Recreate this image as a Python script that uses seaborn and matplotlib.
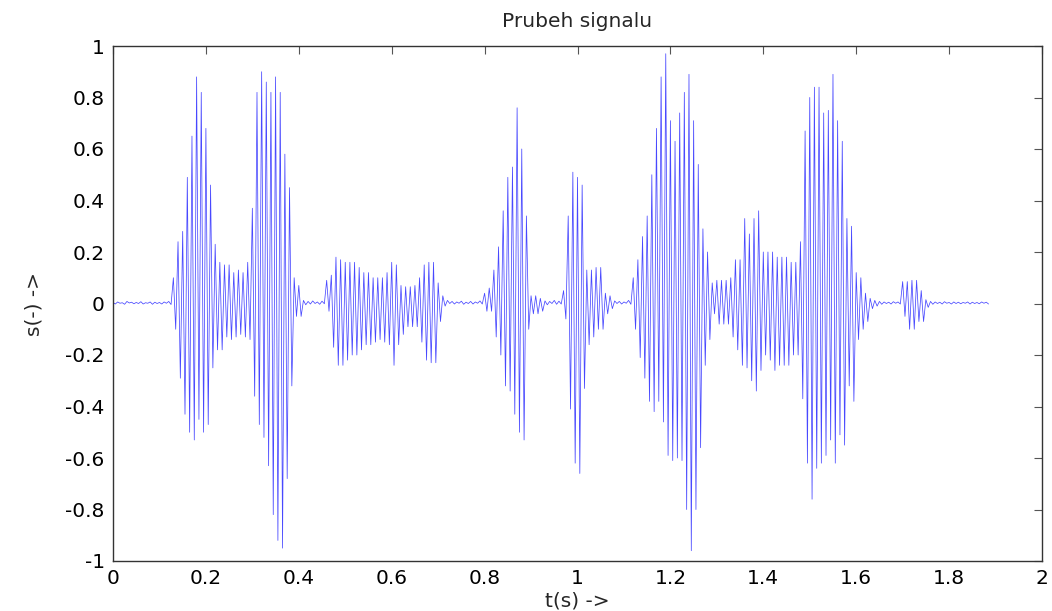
import matplotlib
matplotlib.use("Agg")
import matplotlib.pyplot as plt
import numpy as np
import pandas as pd
import seaborn as sns

# Signal: one upper swing per 10 ms bin (at t = i*0.01)
# and one lower swing half a bin later (at t = i*0.01 + 0.005)
step = 0.01
tops = [
    0.004, 0.006, 0.003, 0.008, 0.005, 0.004, 0.007, 0.003, 0.006, 0.005,
    0.004, 0.006, 0.008, 0.10, 0.24, 0.28, 0.49, 0.65, 0.88, 0.82,
    0.68, 0.46, 0.23, 0.16, 0.15, 0.15, 0.12, 0.13, 0.12, 0.16,
    0.37, 0.82, 0.90, 0.86, 0.82, 0.88, 0.82, 0.58, 0.45, 0.10,
    0.07, 0.012, 0.008, 0.010, 0.006, 0.009, 0.09, 0.11, 0.18, 0.17,
    0.16, 0.16, 0.16, 0.14, 0.12, 0.12, 0.10, 0.10, 0.10, 0.12,
    0.16, 0.15, 0.07, 0.065, 0.065, 0.07, 0.10, 0.15, 0.16, 0.16,
    0.08, 0.03, 0.012, 0.008, 0.006, 0.009, 0.005, 0.008, 0.006, 0.010,
    0.04, 0.06, 0.13, 0.22, 0.36, 0.49, 0.53, 0.76, 0.60, 0.34,
    0.03, 0.03, 0.02, 0.010, 0.008, 0.012, 0.009, 0.05, 0.34, 0.51,
    0.49, 0.46, 0.13, 0.13, 0.14, 0.14, 0.04, 0.03, 0.010, 0.008,
    0.006, 0.012, 0.10, 0.17, 0.26, 0.34, 0.50, 0.68, 0.88, 0.97,
    0.71, 0.63, 0.74, 0.82, 0.89, 0.71, 0.54, 0.29, 0.20, 0.08,
    0.09, 0.09, 0.09, 0.10, 0.17, 0.17, 0.33, 0.27, 0.33, 0.36,
    0.20, 0.20, 0.20, 0.18, 0.18, 0.18, 0.16, 0.16, 0.24, 0.67,
    0.80, 0.84, 0.84, 0.74, 0.75, 0.89, 0.71, 0.63, 0.33, 0.30,
    0.12, 0.10, 0.04, 0.02, 0.012, 0.008, 0.006, 0.005, 0.007, 0.006,
    0.085, 0.085, 0.09, 0.09, 0.05, 0.015, 0.008, 0.006, 0.005, 0.007,
    0.004, 0.006, 0.005, 0.004, 0.006, 0.005, 0.004, 0.006, 0.005,
]
bottoms = [
    -0.002, 0.001, -0.003, 0.002, -0.001, 0.000, -0.002, 0.001, -0.003, 0.000,
    -0.002, 0.001, -0.004, -0.10, -0.29, -0.43, -0.50, -0.53, -0.45, -0.50,
    -0.47, -0.25, -0.18, -0.18, -0.13, -0.14, -0.13, -0.12, -0.13, -0.14,
    -0.36, -0.47, -0.52, -0.63, -0.82, -0.92, -0.95, -0.68, -0.32, -0.05,
    -0.05, -0.005, -0.002, 0.000, -0.003, -0.001, -0.03, -0.17, -0.24, -0.24,
    -0.22, -0.20, -0.20, -0.18, -0.16, -0.16, -0.15, -0.14, -0.15, -0.16,
    -0.24, -0.16, -0.12, -0.09, -0.09, -0.09, -0.15, -0.22, -0.23, -0.23,
    -0.07, -0.01, 0.000, -0.002, 0.001, -0.003, 0.000, -0.002, 0.001, -0.002,
    -0.03, -0.03, -0.13, -0.20, -0.32, -0.34, -0.43, -0.50, -0.53, -0.10,
    -0.04, -0.04, -0.03, -0.005, 0.000, -0.003, -0.002, -0.06, -0.41, -0.62,
    -0.66, -0.33, -0.16, -0.13, -0.10, -0.10, -0.04, -0.02, 0.000, -0.002,
    0.001, -0.003, -0.10, -0.21, -0.29, -0.38, -0.42, -0.38, -0.46, -0.59,
    -0.61, -0.60, -0.61, -0.80, -0.96, -0.80, -0.56, -0.24, -0.14, -0.04,
    -0.08, -0.08, -0.08, -0.13, -0.18, -0.24, -0.25, -0.30, -0.34, -0.26,
    -0.20, -0.22, -0.26, -0.24, -0.24, -0.24, -0.20, -0.20, -0.37, -0.62,
    -0.76, -0.64, -0.62, -0.59, -0.53, -0.62, -0.51, -0.55, -0.32, -0.38,
    -0.14, -0.10, -0.07, -0.02, -0.01, -0.003, 0.000, -0.002, 0.001, -0.002,
    -0.05, -0.10, -0.10, -0.07, -0.07, -0.015, -0.003, 0.000, -0.002, 0.001,
    -0.002, 0.000, -0.001, 0.001, -0.002, 0.000, -0.001, 0.001, -0.002,
]
x_ticks = [0, 0.2, 0.4, 0.6, 0.8, 1, 1.2, 1.4, 1.6, 1.8, 2]
y_ticks = [-1, -0.8, -0.6, -0.4, -0.2, 0, 0.2, 0.4, 0.6, 0.8, 1]

# interleave upper and lower swings into one time series
t_top = np.arange(len(tops)) * step
t_bot = t_top + step / 2
signal = pd.DataFrame({
    "t": np.column_stack([t_top, t_bot]).ravel(),
    "s": np.column_stack([tops, bottoms]).ravel(),
})

sns.set_theme(style="white")
plt.rcParams["font.family"] = ["DejaVu Sans"]

fig = plt.figure(figsize=(10.52, 6.11), dpi=100)
ax = fig.add_axes([113 / 1052, 50 / 611, 929 / 1052, 515 / 611])

sns.lineplot(data=signal, x="t", y="s", ax=ax, color="#1a1aff",
             linewidth=0.55, alpha=0.8, estimator=None, sort=False)

ax.set_xlim(0, 2)
ax.set_ylim(-1, 1)
ax.set_xticks(x_ticks)
ax.set_yticks(y_ticks)
ax.set_xticklabels([f"{v:g}" for v in x_ticks])
ax.set_yticklabels([f"{v:g}" for v in y_ticks])
ax.tick_params(direction="in", length=6, width=0.8, color="#555555",
               top=True, right=True, labelsize=14.5, pad=6, labelcolor="black")
for sp in ax.spines.values():
    sp.set_visible(True)
    sp.set_color("#333333")
    sp.set_linewidth(1.0)

ax.set_title("Prubeh signalu", fontsize=14.5, pad=14)
ax.set_xlabel("t(s) ->", fontsize=14.5, labelpad=2)
ax.set_ylabel("s(-) ->", fontsize=14.5, labelpad=16)

plt.savefig("out.png", dpi=100)
plt.close()
